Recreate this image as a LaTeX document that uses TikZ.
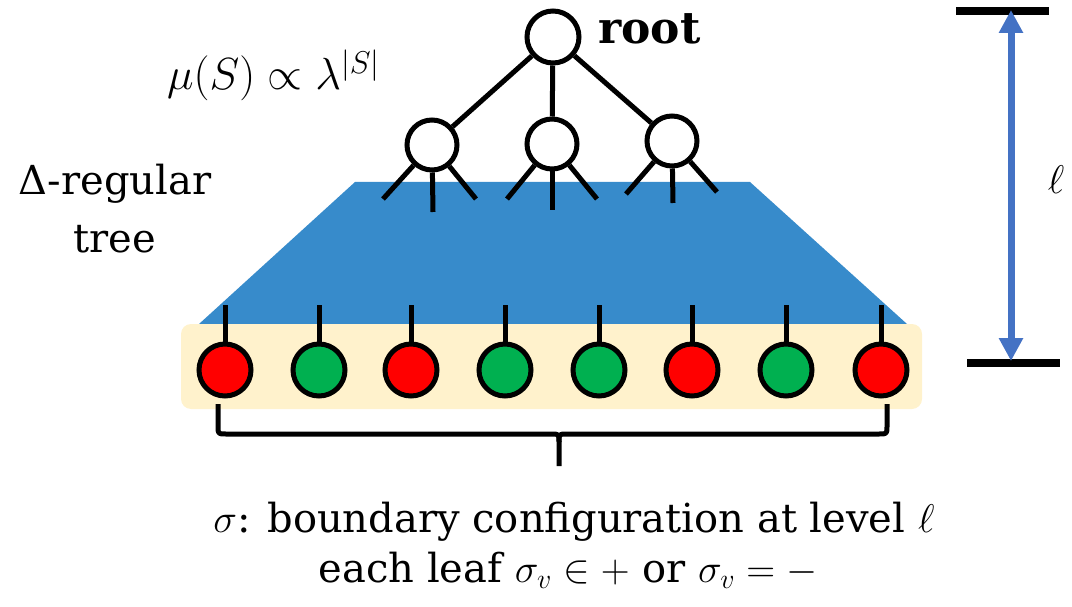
\RequirePackage{fix-cm}
\documentclass[tikz,border=0pt]{standalone}
\usepackage{fontspec}
\setmainfont{DejaVu Serif}
\usetikzlibrary{arrows.meta}
\definecolor{treeblue}{HTML}{378BCB}
\definecolor{boxtan}{HTML}{FFF2CC}
\definecolor{arrowblue}{HTML}{4472C4}
\definecolor{leafred}{HTML}{FF0000}
\definecolor{leafgreen}{HTML}{00B050}
\begin{document}
\begin{tikzpicture}[x=1pt,y=-1pt,
  vert/.style={circle,draw=black,line width=5pt,fill=white,minimum size=50pt,inner sep=0pt},
  leaf/.style={circle,draw=black,line width=5pt,minimum size=52pt,inner sep=0pt},
  treeline/.style={line width=5pt},
  txt/.style={inner sep=0pt,font=\fontsize{40}{50}\selectfont},
  tipT/.tip={Triangle[width=23pt,length=23pt]}]
\useasboundingbox (0,0) rectangle (1072,607);
% backgrounds
\fill[treeblue] (355,182) -- (750,182) -- (907,324) -- (199,324) -- cycle;
\fill[boxtan, rounded corners=10pt] (181,324) rectangle (922,409);
% tree vertices
\node[vert, minimum size=52pt] (root) at (553,37) {};
\node[vert] (c1) at (432,145) {};
\node[vert] (c2) at (552,144) {};
\node[vert] (c3) at (672,141) {};
\draw[treeline] (root) -- (c1);
\draw[treeline] (root) -- (c2);
\draw[treeline] (root) -- (c3);
% stubs of children
\coordinate (s11) at (383,199); \coordinate (s12) at (433,212); \coordinate (s13) at (476,199);
\coordinate (s21) at (507,199); \coordinate (s22) at (552,210); \coordinate (s23) at (597,199);
\coordinate (s31) at (626,194); \coordinate (s32) at (673,203); \coordinate (s33) at (717,192);
\foreach \c in {1,2,3}{
  \foreach \s in {1,2,3}{
    \draw[treeline] (c\c) -- (s\c\s);
  }
}
% leaves
\foreach \i/\x/\col in {1/225/leafred,2/319/leafgreen,3/411/leafred,4/505/leafgreen,5/599/leafgreen,6/692/leafred,7/786/leafgreen,8/881/leafred}{
  \node[leaf, fill=\col] (l\i) at (\x,370) {};
  \coordinate (t\i) at (\x,305);
  \draw[treeline] (l\i) -- (t\i);
}
% brace
\draw[line width=5pt, line join=round]
  (218,404) -- (218,426) .. controls (218,434) .. (226,434) -- (551,434)
  .. controls (559,434) .. (559,442) -- (559,466);
\draw[line width=5pt, line join=round]
  (887,404) -- (887,426) .. controls (887,434) .. (879,434) -- (567,434)
  .. controls (559,434) .. (559,442);
% level scale
\coordinate (bt1) at (956,11); \coordinate (bt2) at (1049,11);
\coordinate (bb1) at (967,363); \coordinate (bb2) at (1060,363);
\draw[line width=8pt] (bt1) -- (bt2);
\draw[line width=8pt] (bb1) -- (bb2);
\coordinate (atop) at (1011,10);
\coordinate (abot) at (1011,361);
\draw[arrowblue, line width=7pt, {tipT}-{tipT}] (atop) -- (abot);
\node[txt, font=\fontsize{40}{50}\selectfont] (ell) at (1056,180) {$\ell$};
% labels
\node[txt, font=\fontsize{44}{50}\selectfont\bfseries, anchor=base west] (rootlbl) at (598,44) {root};
\node[txt, font=\fontsize{45}{50}\selectfont, anchor=base west] (mu) at (167,90) {$\mu(S)\propto\lambda^{|S|}$};
\node[txt, anchor=base] (reg) at (115,195) {Δ-regular};
\node[txt, anchor=base] (tree) at (115,252) {tree};
\node[txt, anchor=base] (cap1) at (574,532) {$\sigma$: boundary configuration at level $\ell$};
\node[txt, anchor=base] (cap2) at (568,582) {each leaf $\sigma_v\in +$ or $\sigma_v=-$};
\end{tikzpicture}
\end{document}
